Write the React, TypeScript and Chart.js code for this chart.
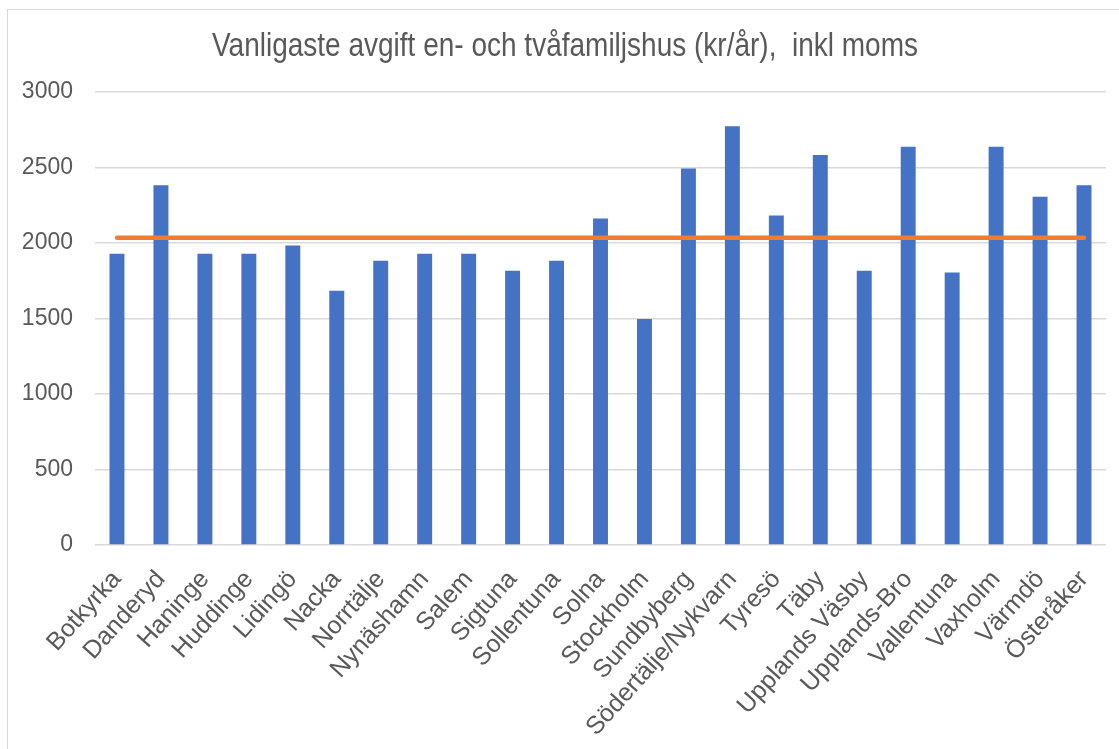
import React, { useEffect, useRef } from "react";
import { Chart, registerables } from "chart.js";

Chart.register(...registerables);

const TITLE = "Vanligaste avgift en- och tvåfamiljshus (kr/år),  inkl moms";

const municipalities = [
  "Botkyrka", "Danderyd", "Haninge", "Huddinge", "Lidingö", "Nacka", "Norrtälje",
  "Nynäshamn", "Salem", "Sigtuna", "Sollentuna", "Solna", "Stockholm", "Sundbyberg",
  "Södertälje/Nykvarn", "Tyresö", "Täby", "Upplands Väsby", "Upplands-Bro",
  "Vallentuna", "Vaxholm", "Värmdö", "Österåker",
];

const fees = [
  1928, 2383, 1928, 1928, 1983, 1684, 1883,
  1928, 1928, 1817, 1883, 2162, 1496, 2494,
  2773, 2182, 2582, 1817, 2638,
  1805, 2638, 2306, 2383,
];

const referenceLevel = [
  2034, 2034, 2034, 2034, 2034, 2034, 2034,
  2034, 2034, 2034, 2034, 2034, 2034, 2034,
  2034, 2034, 2034, 2034, 2034,
  2034, 2034, 2034, 2034,
];

const yTicks = [0, 500, 1000, 1500, 2000, 2500, 3000];

const FONT = "'Liberation Sans', Arial, sans-serif";
const TEXT = "#595959";

export default function App() {
  const ref = useRef<HTMLCanvasElement | null>(null);

  useEffect(() => {
    document.body.style.margin = "0";
    const canvas = ref.current;
    if (!canvas) return;

    const titlePlugin = {
      id: "fixedTitle",
      afterDraw(chart: any) {
        const ctx = chart.ctx;
        ctx.save();
        ctx.fillStyle = TEXT;
        ctx.font = `33px ${FONT}`;
        ctx.textAlign = "center";
        ctx.textBaseline = "alphabetic";
        const w = ctx.measureText(TITLE).width;
        const sx = 706 / w;
        ctx.translate(565, 56);
        ctx.scale(sx, 1);
        ctx.fillText(TITLE, 0, 0);
        ctx.restore();
      },
    };

    const chart = new Chart(canvas, {
      data: {
        labels: municipalities,
        datasets: [
          {
            type: "line",
            label: "Nivå",
            data: referenceLevel,
            borderColor: "#ED7D31",
            backgroundColor: "#ED7D31",
            borderWidth: 4.5,
            borderCapStyle: "round",
            pointRadius: 0,
            order: 1,
          },
          {
            type: "bar",
            label: "Avgift",
            data: fees,
            backgroundColor: "#4472C4",
            barPercentage: 1,
            categoryPercentage: 0.34,
            order: 2,
          },
        ],
      } as any,
      options: {
        animation: false,
        responsive: false,
        maintainAspectRatio: false,
        layout: { padding: { top: 92, right: 13, bottom: 0, left: 0 } },
        plugins: {
          legend: { display: false },
          title: { display: false },
          tooltip: { enabled: false },
        },
        scales: {
          x: {
            grid: { display: false },
            border: { display: false },
            ticks: {
              color: TEXT,
              font: { family: FONT, size: 25 },
              minRotation: 48,
              maxRotation: 48,
              autoSkip: false,
              padding: 12,
            },
            afterFit(scale: any) {
              scale.height = 204;
            },
          },
          y: {
            min: 0,
            max: 3000,
            afterBuildTicks(scale: any) {
              scale.ticks = yTicks.map((v) => ({ value: v }));
            },
            grid: { color: "#d9d9d9", lineWidth: 1.5, drawTicks: false },
            border: { display: false },
            ticks: {
              color: TEXT,
              font: { family: FONT, size: 23 },
              padding: 22,
              callback: (v: any) => String(v),
            },
            afterFit(scale: any) {
              scale.width = 95;
            },
          },
        },
      } as any,
      plugins: [titlePlugin],
    });

    return () => chart.destroy();
  }, []);

  return (
    <div style={{ position: "relative", width: 1119, height: 749 }}>
      <div
        style={{
          position: "absolute",
          left: 7,
          top: 9,
          width: 1200,
          height: 800,
          borderLeft: "1.5px solid #d9d9d9",
          borderTop: "1.5px solid #d9d9d9",
          boxSizing: "border-box",
        }}
      />
      <canvas
        ref={ref}
        width={1119}
        height={749}
        style={{ position: "absolute", left: 0, top: 0, width: 1119, height: 749 }}
      />
    </div>
  );
}
